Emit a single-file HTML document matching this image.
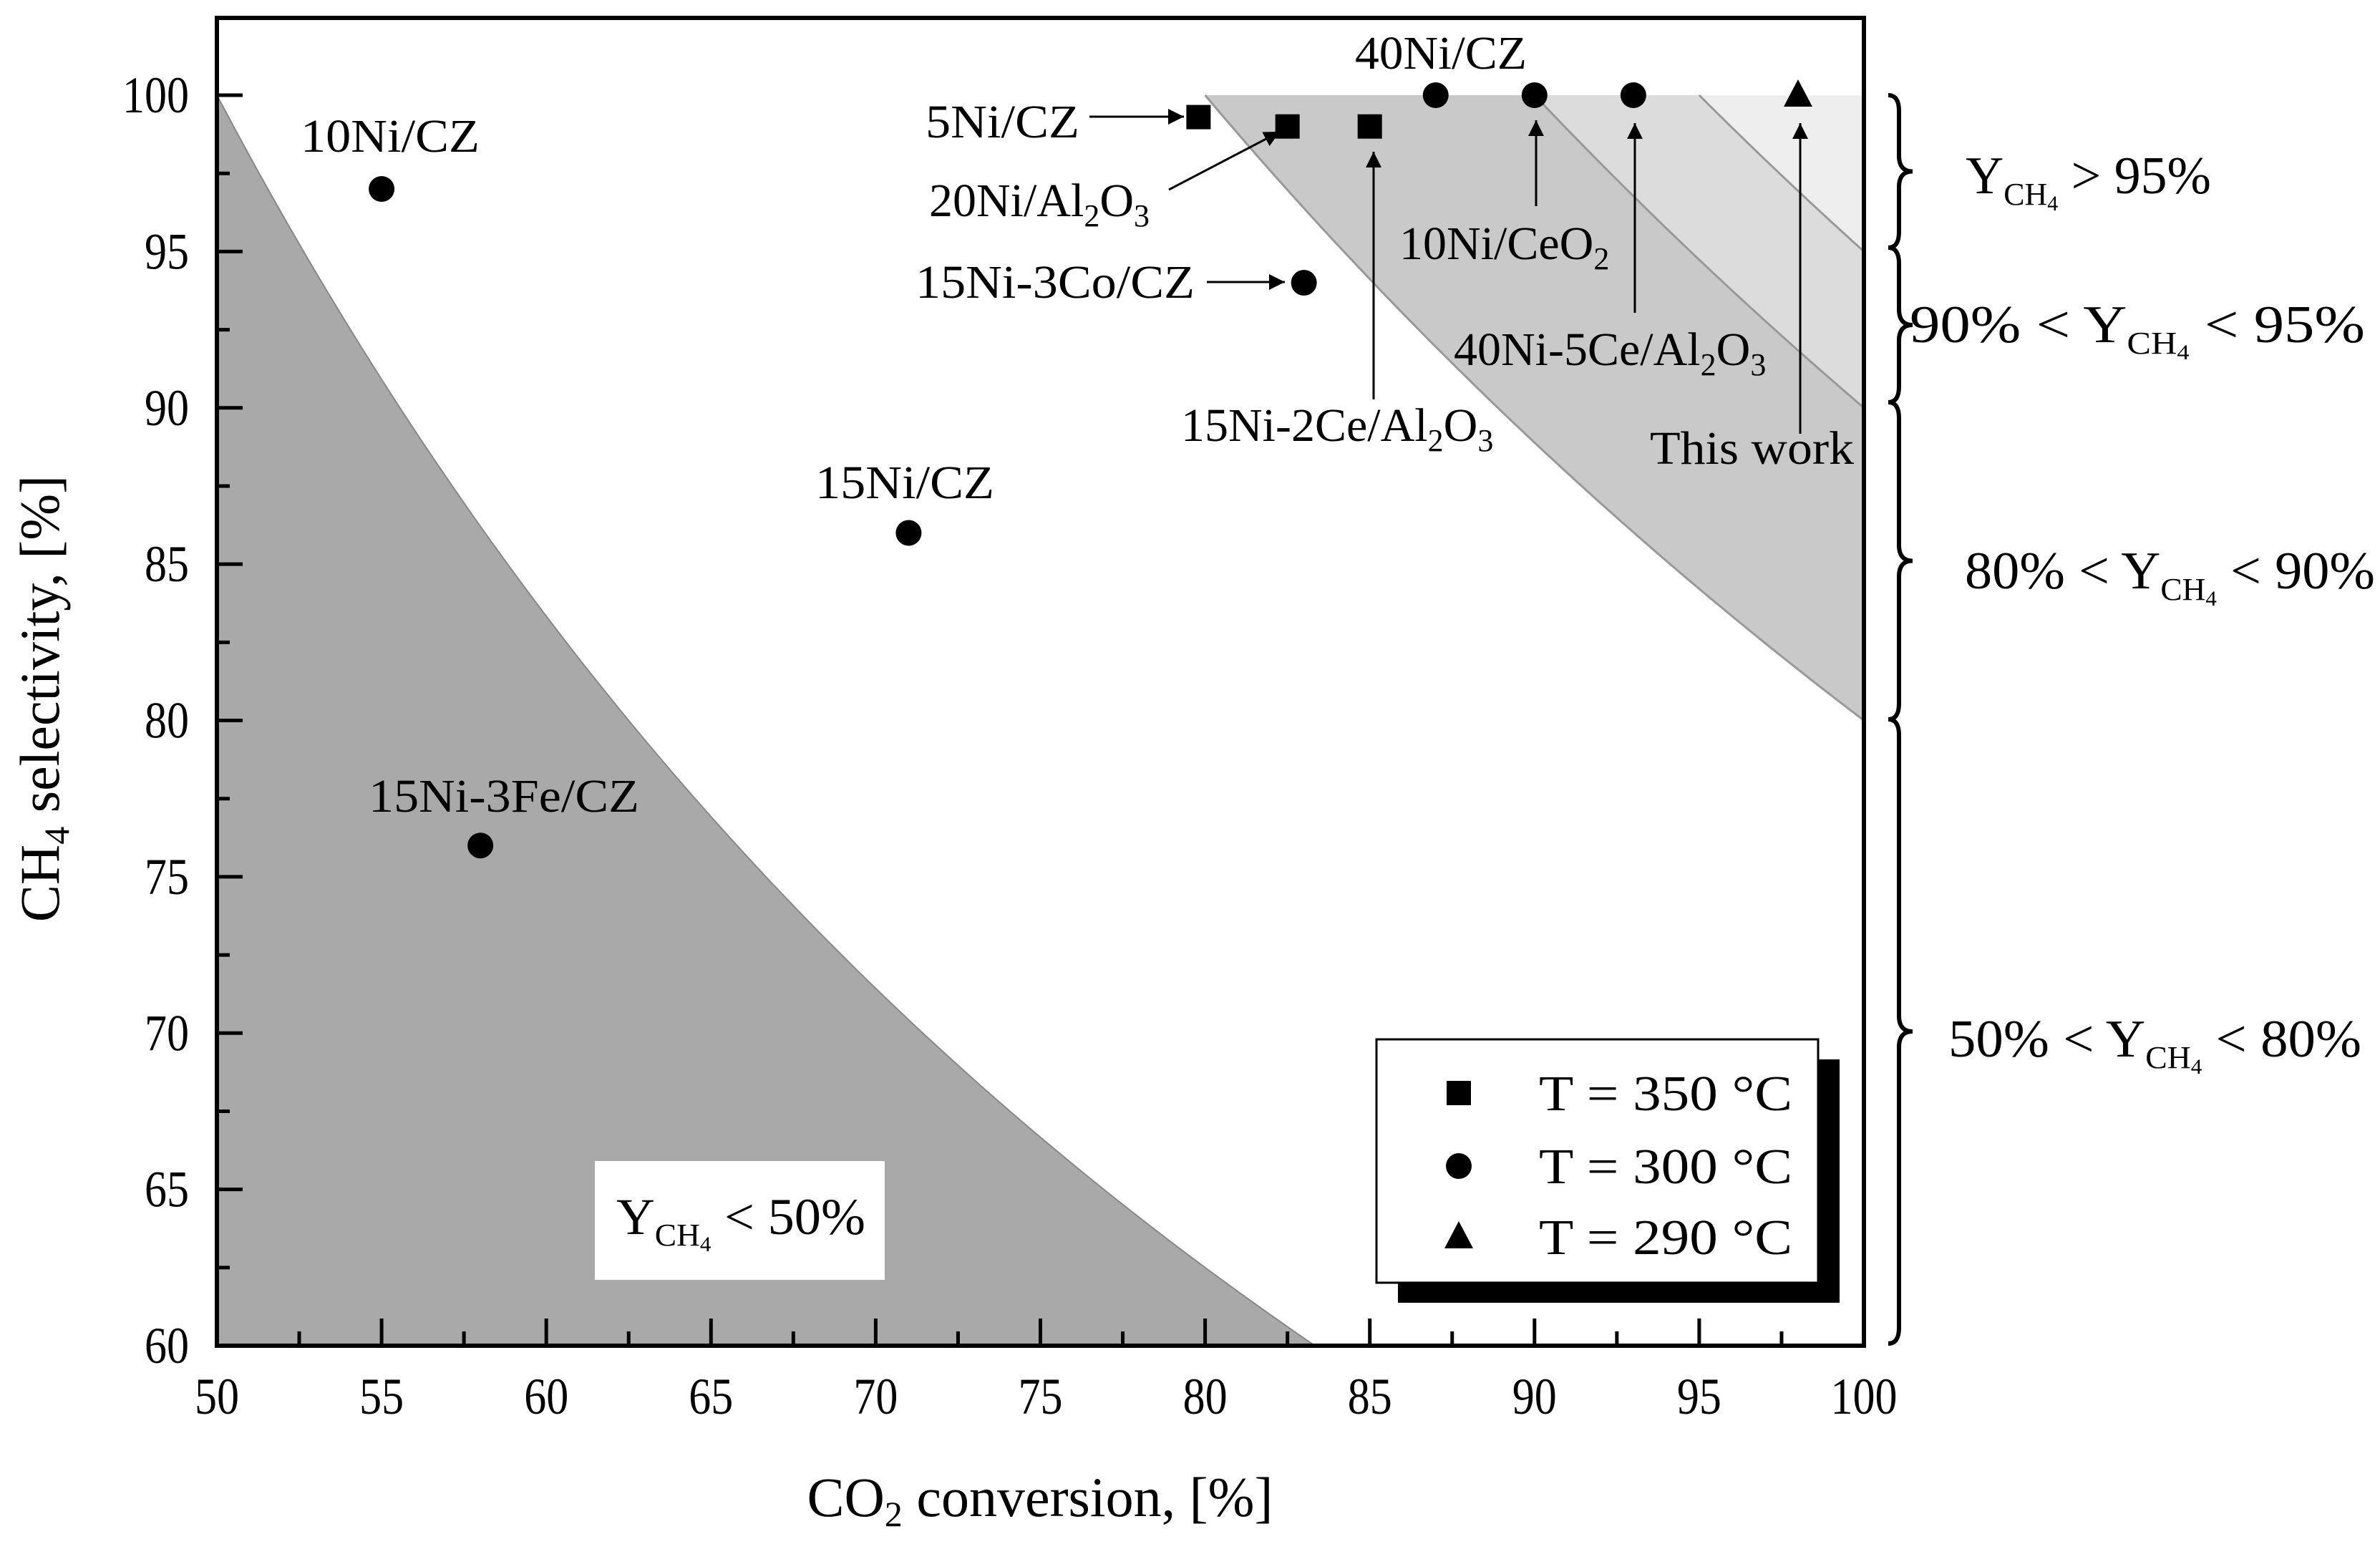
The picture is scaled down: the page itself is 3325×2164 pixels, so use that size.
<!DOCTYPE html>
<html><head><meta charset="utf-8"><style>
html,body{margin:0;padding:0;background:#fff;}
svg{display:block;}
text{font-family:"Liberation Serif",serif;fill:#000;}
</style></head><body>
<svg id="chart" width="3325" height="2164" viewBox="0 0 3325 2164" xmlns="http://www.w3.org/2000/svg">
<g id="regions"></g><g id="axes"></g><g id="marks"></g><g id="notes"></g><g id="legend"></g><g id="side"></g>
</svg>
<script>
const xTicks=[50,55,60,65,70,75,80,85,90,95,100];
const yTicks=[60,65,70,75,80,85,90,95,100];
const yieldLevels=[50,80,90,95];
const sqX=[79.8,82.5,85];
const sqY=[99.3,99,99];
const ciX=[55,71,58,83,87,90,93];
const ciY=[97,86,76,94,100,100,100];
const trX=[98];
const trY=[100];

const NS="http://www.w3.org/2000/svg";
const X0=303,X1=2604,Y0=1880,Y1=133;
function sx(v){return X0+(v-50)*(X1-X0)/50;}
function sy(v){return Y0-(v-60)*(Y0-Y1)/40;}
function el(tag,attrs,parent){const e=document.createElementNS(NS,tag);for(const k in attrs)e.setAttribute(k,attrs[k]);parent.appendChild(e);return e;}
const R=document.getElementById('regions'),A=document.getElementById('axes'),M=document.getElementById('marks'),N=document.getElementById('notes'),L=document.getElementById('legend'),S=document.getElementById('side');

function curvePts(Y,xa,xb){const p=[];for(let i=0;i<=60;i++){const x=xa+(xb-xa)*i/60;p.push([x,Y*100/x]);}return p;}
function toStr(p){return p.map(q=>sx(q[0]).toFixed(1)+','+sy(q[1]).toFixed(1)).join(' ');}
let p=curvePts(yieldLevels[0],50,5000/60);p.push([50,60]);
let e=el('polygon',{points:toStr(p),fill:'#a9a9a9',stroke:'#888','stroke-width':2},R);

const fills=['#c9c9c9','#dcdcdc','#eeeeee'];
for(let k=1;k<4;k++){
  const lo=yieldLevels[k];
  let q=curvePts(lo,lo,100);q.push([100,100]);
  e=el('polygon',{points:toStr(q),fill:fills[k-1]},R);
  
  e=el('polyline',{points:toStr(curvePts(lo,lo,100)),fill:'none',stroke:'#999','stroke-width':3},R);
  
}
e=el('rect',{x:X0,y:25,width:X1-X0,height:Y0-25,fill:'none',stroke:'#000','stroke-width':6},A);

xTicks.forEach((v,i)=>{
  e=el('line',{x1:sx(v),x2:sx(v),y1:Y0,y2:Y0-38,stroke:'#000','stroke-width':5},A);
  
  if(i<xTicks.length-1){e=el('line',{x1:sx(v+2.5),x2:sx(v+2.5),y1:Y0,y2:Y0-20,stroke:'#000','stroke-width':5},A);
  }
  const t=el('text',{x:sx(v),y:1975,'font-size':72,'text-anchor':'middle',textLength:String(v).length*31,lengthAdjust:'spacingAndGlyphs'},A);t.textContent=v;
  
});
yTicks.forEach((v,i)=>{
  e=el('line',{x1:X0,x2:X0+36,y1:sy(v),y2:sy(v),stroke:'#000','stroke-width':5},A);
  
  if(i<yTicks.length-1){e=el('line',{x1:X0,x2:X0+18,y1:sy(v+2.5),y2:sy(v+2.5),stroke:'#000','stroke-width':5},A);
  }
  const t=el('text',{x:264,y:sy(v)+24,'font-size':72,'text-anchor':'end',textLength:String(v).length*31,lengthAdjust:'spacingAndGlyphs'},A);t.textContent=v;
  
});
let t=el('text',{x:1453,y:2118,'font-size':78,'text-anchor':'middle'},A);
t.innerHTML='CO<tspan font-size="50" dy="14">2</tspan><tspan dy="-14"> conversion, [%]</tspan>';

t=el('text',{x:0,y:0,'font-size':78,'text-anchor':'middle',transform:'translate(82,976) rotate(-90)'},A);
t.innerHTML='CH<tspan font-size="50" dy="14">4</tspan><tspan dy="-14"> selectivity, [%]</tspan>';


function square(x,y,s,parent){return el('rect',{x:x-s/2,y:y-s/2,width:s,height:s,fill:'#000'},parent);}
function tri(x,y,s,parent){return el('polygon',{points:`${x},${y-s*0.55} ${x-s/2},${y+s*0.4} ${x+s/2},${y+s*0.4}`,fill:'#000'},parent);}
sqX.forEach((v,i)=>{e=square(sx(v),sy(sqY[i]),34,M);});
ciX.forEach((v,i)=>{e=el('circle',{cx:sx(v),cy:sy(ciY[i]),r:18,fill:'#000'},M);});
trX.forEach((v,i)=>{e=tri(sx(v),sy(trY[i]),40,M);});

const defs=el('defs',{},N);
const mk=el('marker',{id:'ah',viewBox:'0 0 10 10',refX:10,refY:5,markerWidth:34,markerHeight:22,orient:'auto',markerUnits:'userSpaceOnUse'},defs);
el('path',{d:'M0,0 L10,5 L0,10 z',fill:'#000'},mk);
function label(x,y,html,name,w){const a={x:x,y:y,'font-size':66};if(w){a.textLength=w;a.lengthAdjust='spacingAndGlyphs';}const t=el('text',a,N);t.innerHTML=html;return t;}
function arrow(x1,y1,x2,y2,name){const l=el('line',{x1,y1,x2,y2,stroke:'#000','stroke-width':3,'marker-end':'url(#ah)'},N);}
const sub=(s)=>`<tspan font-size="44" dy="14">${s}</tspan><tspan dy="-14">`;
label(1893,96,'40Ni/CZ','label-40ni-cz',240);
label(1293,192,'5Ni/CZ','label-5ni-cz',215);arrow(1522,163,1654,163,'arrow-5ni-cz');
label(420,212,'10Ni/CZ','label-10ni-cz',250);
label(1298,302,'20Ni/Al'+sub('2')+'O</tspan>'+sub('3')+'</tspan>','label-20ni-al2o3');arrow(1633,265,1788,184,'arrow-20ni-al2o3');
label(1279,416,'15Ni-3Co/CZ','label-15ni-3co-cz',390);arrow(1686,394,1795,394,'arrow-15ni-3co-cz');
label(1650,616,'15Ni-2Ce/Al'+sub('2')+'O</tspan>'+sub('3')+'</tspan>','label-15ni-2ce-al2o3');arrow(1919,558,1919,212,'arrow-15ni-2ce-al2o3');
label(1139,696,'15Ni/CZ','label-15ni-cz',250);
label(515,1134,'15Ni-3Fe/CZ','label-15ni-3fe-cz',378);
label(1955,362,'10Ni/CeO'+sub('2')+'</tspan>','label-10ni-ceo2');arrow(2146,288,2146,168,'arrow-10ni-ceo2');
label(2031,510,'40Ni-5Ce/Al'+sub('2')+'O</tspan>'+sub('3')+'</tspan>','label-40ni-5ce-al2o3');arrow(2284,437,2284,172,'arrow-40ni-5ce-al2o3');
label(2305,648,'This work','label-this-work',285);arrow(2515,606,2515,172,'arrow-this-work');
e=el('rect',{x:831,y:1622,width:405,height:166,fill:'#fff'},N);
t=el('text',{x:861,y:1724,'font-size':72,textLength:348,lengthAdjust:'spacingAndGlyphs'},N);
t.innerHTML='Y<tspan font-size="44" dy="16">CH<tspan font-size="30" dy="8">4</tspan></tspan><tspan dy="-24"> &lt; 50%</tspan>';


e=el('rect',{x:1953,y:1480,width:617,height:340,fill:'#000'},L);
e=el('rect',{x:1923,y:1452,width:617,height:340,fill:'#fff',stroke:'#000','stroke-width':3},L);
const legY=[1527,1629,1728],legT=['T = 350 °C','T = 300 °C','T = 290 °C'];
e=square(2038,legY[0],34,L);
e=el('circle',{cx:2038,cy:legY[1],r:18,fill:'#000'},L);
e=tri(2038,legY[2],40,L);
legT.forEach((s,i)=>{const t=el('text',{x:2150,y:legY[i]+24,'font-size':70,textLength:354,lengthAdjust:'spacingAndGlyphs'},L);t.textContent=s;});

function brace(y1,y2,name){const x0=2638,xb=2653,xt=2672,ym=(y1+y2)/2,r=22;
 const d=`M${x0},${y1} Q${xb},${y1} ${xb},${y1+r} L${xb},${ym-r} Q${xb},${ym} ${xt},${ym} Q${xb},${ym} ${xb},${ym+r} L${xb},${y2-r} Q${xb},${y2} ${x0},${y2}`;
 const p=el('path',{d,fill:'none',stroke:'#000','stroke-width':6},S);}
brace(133,346,'brace-above-95');brace(346,562,'brace-90-95');brace(562,1005,'brace-80-90');brace(1005,1877,'brace-50-80');
const Ysub='Y<tspan font-size="44" dy="16">CH<tspan font-size="30" dy="8">4</tspan></tspan><tspan dy="-24">';
function side(x,y,pre,post,name,w){const t=el('text',{x,y,'font-size':74,textLength:w,lengthAdjust:'spacingAndGlyphs'},S);t.innerHTML=pre+Ysub+post+'</tspan>';}
side(2746,270,'',' &gt; 95%','label-yield-above-95',343);
side(2668,478,'90% &lt; ',' &lt; 95%','label-yield-90-95',636);
side(2745,822,'80% &lt; ',' &lt; 90%','label-yield-80-90',573);
side(2722,1476,'50% &lt; ',' &lt; 80%','label-yield-50-80',577);
</script>
</body></html>
